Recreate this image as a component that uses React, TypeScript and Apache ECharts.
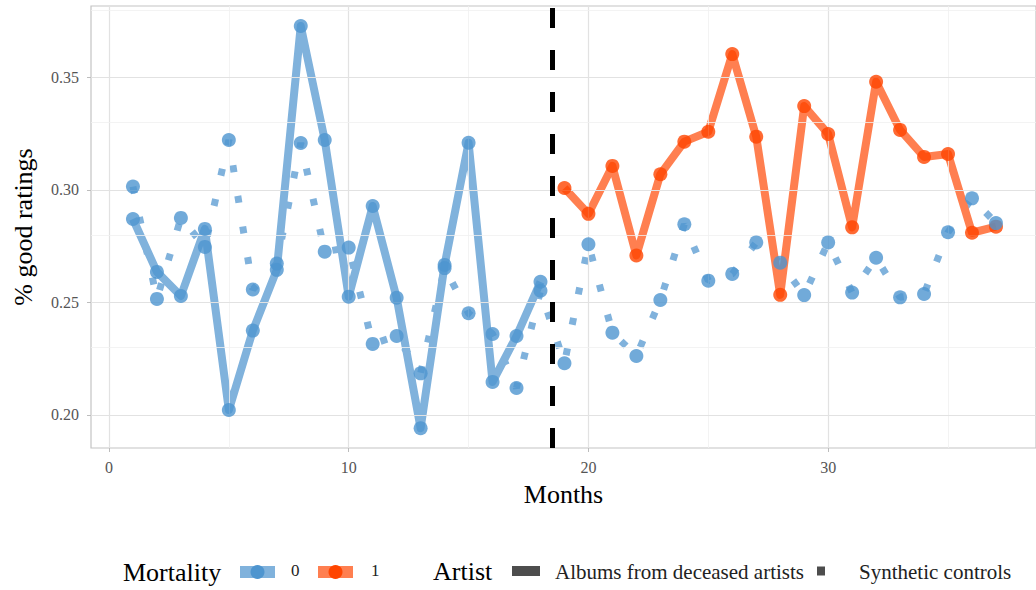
import React, { useEffect, useRef } from "react";
import * as echarts from "echarts";

// ---- data ----
const preMonths = [1, 2, 3, 4, 5, 6, 7, 8, 9, 10, 11, 12, 13, 14, 15, 16, 17, 18];
const postMonths = [19, 20, 21, 22, 23, 24, 25, 26, 27, 28, 29, 30, 31, 32, 33, 34, 35, 36, 37];
const allMonths = [...preMonths, ...postMonths];

// observed ratings, albums from deceased artists (Mortality 0 before, 1 after)
const observedPre = [0.2871, 0.2636, 0.2529, 0.2827, 0.2022, 0.2375, 0.2645, 0.3729, 0.3222, 0.2526, 0.2929, 0.2521, 0.1941, 0.2667, 0.321, 0.2147, 0.2351, 0.2592];
const observedPost = [0.3009, 0.2894, 0.3107, 0.2709, 0.307, 0.3215, 0.3259, 0.3604, 0.3237, 0.2534, 0.3373, 0.3249, 0.2834, 0.3481, 0.3267, 0.3147, 0.316, 0.281, 0.2837];
// synthetic controls
const synthetic = [0.3015, 0.2516, 0.2876, 0.2747, 0.3222, 0.2558, 0.2673, 0.3209, 0.2726, 0.2744, 0.2316, 0.2351, 0.2185, 0.2653, 0.2452, 0.236, 0.212, 0.2552,
  0.223, 0.2759, 0.2366, 0.2262, 0.2511, 0.2848, 0.2597, 0.2627, 0.2767, 0.2677, 0.2533, 0.2767, 0.2544, 0.2699, 0.2523, 0.2538, 0.2812, 0.2963, 0.2853];

const xTicks = [0, 10, 20, 30];
const xMinor = [5, 15, 25, 35];
const yTicks = [0.2, 0.25, 0.3, 0.35];
const yMinor = [0.225, 0.275, 0.325, 0.375];
const treatmentMonth = 18.5;

const FONT = "'Liberation Serif', 'DejaVu Serif', serif";
const BLUE_PT = "#4e95cf";
const BLUE_LN = "#80b2dc";
const ORANGE_PT = "#ff4500";
const ORANGE_LN = "#ff7f50";

export default function App() {
  const ref = useRef<HTMLDivElement>(null);

  useEffect(() => {
    if (!ref.current) return;
    const chart = echarts.init(ref.current, undefined, { renderer: "svg" });

    const pair = (xs: number[], ys: number[]) => xs.map((x, i) => [x, ys[i]]);

    const gridLines = [
      ...xTicks.map((v) => ({ xAxis: v, lineStyle: { color: "#e2e2e2", width: 1.2, type: "solid" } })),
      ...xMinor.map((v) => ({ xAxis: v, lineStyle: { color: "#f0f0f0", width: 0.8, type: "solid" } })),
      ...yTicks.map((v) => ({ yAxis: v, lineStyle: { color: "#e2e2e2", width: 1.2, type: "solid" } })),
      ...yMinor.map((v) => ({ yAxis: v, lineStyle: { color: "#f0f0f0", width: 0.8, type: "solid" } })),
    ];

    const option: any = {
      animation: false,
      backgroundColor: "#ffffff",
      grid: {
        left: 91,
        top: 6,
        width: 950,
        height: 442,
        show: true,
        borderColor: "#c4c4c4",
        borderWidth: 1.2,
        containLabel: false,
      },
      xAxis: {
        type: "value",
        min: -0.75,
        max: 38.67,
        name: "Months",
        nameLocation: "middle",
        nameGap: 33,
        nameTextStyle: { fontFamily: FONT, fontSize: 26, color: "#000" },
        axisLine: { show: false, onZero: false },
        axisTick: { show: true, customValues: xTicks, length: 4, lineStyle: { color: "#bdbdbd" } },
        axisLabel: {
          customValues: xTicks,
          margin: 11,
          fontFamily: FONT,
          fontSize: 16,
          color: "#555",
        },
        splitLine: { show: false },
      },
      yAxis: {
        type: "value",
        min: 0.18533,
        max: 0.38178,
        name: "% good ratings",
        nameLocation: "middle",
        nameRotate: 90,
        nameGap: 55,
        nameTextStyle: { fontFamily: FONT, fontSize: 26, color: "#000" },
        axisLine: { show: false, onZero: false },
        axisTick: { show: true, customValues: yTicks, length: 4, lineStyle: { color: "#bdbdbd" } },
        axisLabel: {
          customValues: yTicks,
          margin: 12,
          fontFamily: FONT,
          fontSize: 16,
          color: "#555",
          formatter: (v: number) => v.toFixed(2),
        },
        splitLine: { show: false },
      },
      series: [
        {
          name: "grid",
          type: "line",
          data: [[0, 0.3]],
          showSymbol: false,
          lineStyle: { opacity: 0 },
          silent: true,
          z: 0,
          markLine: { silent: true, symbol: "none", label: { show: false }, data: gridLines, animation: false },
        },
        {
          name: "Synthetic controls",
          type: "line",
          data: pair(allMonths, synthetic),
          showSymbol: false,
          lineStyle: { color: BLUE_LN, width: 7, type: [7, 24], cap: "butt" },
          z: 2,
        },
        {
          name: "Deceased 0",
          type: "line",
          data: pair(preMonths, observedPre),
          showSymbol: false,
          lineStyle: { color: BLUE_LN, width: 8, join: "round" },
          z: 3,
        },
        {
          name: "Deceased 1",
          type: "line",
          data: pair(postMonths, observedPost),
          showSymbol: false,
          lineStyle: { color: ORANGE_LN, width: 8, join: "round" },
          z: 3,
        },
        {
          name: "treatment",
          type: "line",
          data: [],
          showSymbol: false,
          z: 4,
          markLine: {
            silent: true,
            symbol: "none",
            label: { show: false },
            lineStyle: { color: "#000", width: 5, type: [20, 22] },
            data: [{ xAxis: treatmentMonth }],
          },
        },
        {
          name: "points 1",
          type: "scatter",
          data: pair(postMonths, observedPost),
          symbol: "circle",
          symbolSize: 14,
          itemStyle: { color: ORANGE_PT },
          z: 5,
        },
        {
          name: "points 0",
          type: "scatter",
          data: [...pair(preMonths, observedPre), ...pair(allMonths, synthetic)],
          symbol: "circle",
          symbolSize: 14,
          itemStyle: { color: BLUE_PT },
          z: 6,
        },
      ],
      graphic: [
        { type: "text", left: 123, top: 559, style: { text: "Mortality", font: `26px ${FONT}`, fill: "#000" } },
        { type: "rect", shape: { x: 240, y: 566, width: 35, height: 12 }, style: { fill: BLUE_LN } },
        { type: "circle", shape: { cx: 257.5, cy: 572, r: 7 }, style: { fill: BLUE_PT } },
        { type: "text", left: 291, top: 562, style: { text: "0", font: `17px ${FONT}`, fill: "#222" } },
        { type: "rect", shape: { x: 318, y: 566, width: 35, height: 12 }, style: { fill: ORANGE_LN } },
        { type: "circle", shape: { cx: 335.5, cy: 572, r: 7 }, style: { fill: ORANGE_PT } },
        { type: "text", left: 371, top: 562, style: { text: "1", font: `17px ${FONT}`, fill: "#222" } },
        { type: "text", left: 433, top: 558, style: { text: "Artist", font: `26px ${FONT}`, fill: "#000" } },
        { type: "rect", shape: { x: 512, y: 566, width: 28, height: 10 }, style: { fill: "#4d4d4d" } },
        { type: "text", left: 555, top: 561, style: { text: "Albums from deceased artists", font: `21px ${FONT}`, fill: "#222" } },
        { type: "rect", shape: { x: 817, y: 566.5, width: 8, height: 9 }, style: { fill: "#4d4d4d" } },
        { type: "text", left: 859, top: 561, style: { text: "Synthetic controls", font: `21px ${FONT}`, fill: "#222" } },
      ],
    };

    chart.setOption(option);
    return () => chart.dispose();
  }, []);

  return <div ref={ref} style={{ position: "absolute", left: 0, top: 0, width: 1036, height: 590 }} />;
}
